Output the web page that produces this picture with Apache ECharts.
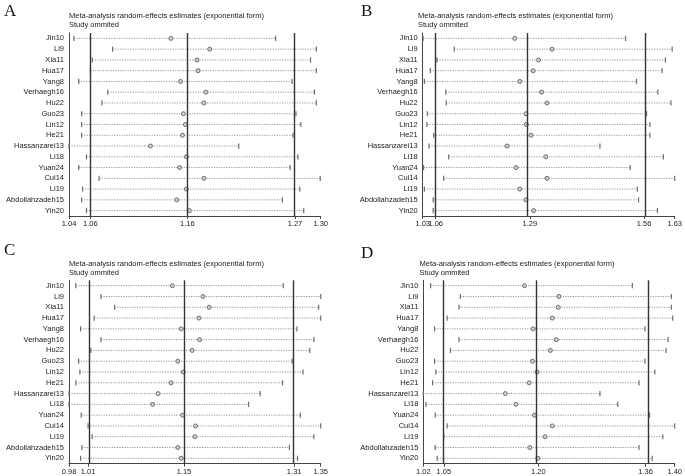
<!DOCTYPE html>
<html><head><meta charset="utf-8">
<script src="https://cdn.jsdelivr.net/npm/echarts@6/dist/echarts.min.js"></script>
<style>html,body{margin:0;padding:0;background:#fff}#c{width:685px;height:476px}</style>
</head><body><div id="c"></div>
<script>
const studies = ['Jin10','Li9','Xia11','Hua17','Yang8','Verhaegh16','Hu22','Guo23','Lin12','He21','Hassanzarei13','Li18','Yuan24','Cui14','Li19','Abdollahzadeh15','Yin20'];

const lowA = [1.043,1.083,1.062,1.060,1.048,1.078,1.072,1.051,1.051,1.051,1.038,1.056,1.048,1.069,1.052,1.051,1.056];
const estA = [1.143,1.183,1.170,1.171,1.153,1.179,1.177,1.156,1.158,1.155,1.122,1.159,1.152,1.177,1.159,1.149,1.162];
const upA  = [1.251,1.293,1.287,1.293,1.268,1.291,1.293,1.272,1.277,1.269,1.213,1.274,1.266,1.297,1.276,1.258,1.280];
const ticksA = [1.038,1.060,1.160,1.271,1.2975];
const labelsA = ['1.04','1.06','1.16','1.27','1.30'];

const lowB = [1.031,1.105,1.064,1.048,1.034,1.085,1.086,1.041,1.040,1.056,1.045,1.092,1.032,1.080,1.034,1.055,1.055];
const estB = [1.249,1.338,1.306,1.293,1.261,1.313,1.326,1.276,1.277,1.288,1.231,1.323,1.252,1.326,1.261,1.276,1.294];
const upB  = [1.513,1.624,1.608,1.600,1.539,1.590,1.621,1.563,1.571,1.571,1.452,1.603,1.524,1.630,1.541,1.544,1.589];
const ticksB = [1.03,1.061,1.285,1.557,1.63];
const labelsB = ['1.03','1.06','1.29','1.56','1.63'];

const lowC = [0.990,1.027,1.047,1.017,0.997,1.027,1.012,0.994,0.996,0.990,0.980,0.980,0.998,1.008,1.014,0.999,0.997];
const estC = [1.132,1.177,1.186,1.171,1.145,1.172,1.161,1.140,1.148,1.130,1.111,1.103,1.147,1.166,1.165,1.140,1.145];
const upC  = [1.295,1.350,1.347,1.350,1.315,1.340,1.334,1.308,1.324,1.294,1.261,1.244,1.320,1.350,1.340,1.304,1.316];
const ticksC = [0.98,1.008,1.149,1.311,1.35];
const labelsC = ['0.98','1.01','1.15','1.31','1.35'];

const lowD = [1.031,1.076,1.074,1.056,1.037,1.074,1.061,1.037,1.039,1.034,1.020,1.024,1.038,1.056,1.051,1.038,1.041];
const estD = [1.173,1.225,1.224,1.215,1.186,1.221,1.212,1.185,1.192,1.180,1.144,1.160,1.188,1.215,1.204,1.181,1.193];
const upD  = [1.336,1.395,1.395,1.397,1.355,1.390,1.387,1.355,1.370,1.346,1.287,1.314,1.362,1.400,1.382,1.346,1.366];
const ticksD = [1.02,1.051,1.194,1.356,1.40];
const labelsD = ['1.02','1.05','1.20','1.36','1.40'];

const panelLetters = ['A','B','C','D'];
const titleText = 'Meta-analysis random-effects estimates (exponential form)\nStudy ommited';

const panels = [
  {low: lowA, est: estA, up: upA, ticks: ticksA, labels: labelsA, grid: {left: 69, width: 251.7, top: 33, height: 183}, title: {left: 69, top: 11}, letter: {left: 4, top: 3}},
  {low: lowB, est: estB, up: upB, ticks: ticksB, labels: labelsB, grid: {left: 422.7, width: 252.3, top: 33, height: 183}, title: {left: 418, top: 11}, letter: {left: 361, top: 3}},
  {low: lowC, est: estC, up: upC, ticks: ticksC, labels: labelsC, grid: {left: 69, width: 251.7, top: 280.3, height: 183.4}, title: {left: 69, top: 259.5}, letter: {left: 4, top: 242}},
  {low: lowD, est: estD, up: upD, ticks: ticksD, labels: labelsD, grid: {left: 423.3, width: 251.7, top: 280.3, height: 183.4}, title: {left: 419.5, top: 259.5}, letter: {left: 361, top: 245}}
];

const FONT = '"Liberation Sans", Arial, sans-serif';
const txtColor = '#1a1a1a';

function renderRow(params, api) {
  const idx = api.value(0);
  const pL = api.coord([api.value(1), idx]);
  const pE = api.coord([api.value(2), idx]);
  const pH = api.coord([api.value(3), idx]);
  const y = pL[1];
  const capStyle = {stroke: '#6e6e6e', lineWidth: 1.2};
  return {
    type: 'group',
    children: [
      {type: 'line', shape: {x1: pL[0], y1: y, x2: pH[0], y2: y}, style: {stroke: '#8a8a8a', lineWidth: 0.9, lineDash: [1.2, 1.3]}},
      {type: 'line', shape: {x1: pL[0], y1: y - 2.6, x2: pL[0], y2: y + 2.6}, style: capStyle},
      {type: 'line', shape: {x1: pH[0], y1: y - 2.6, x2: pH[0], y2: y + 2.6}, style: capStyle},
      {type: 'circle', shape: {cx: pE[0], cy: y, r: 2}, style: {fill: '#d0d0d0', stroke: '#6e6e6e', lineWidth: 1}}
    ]
  };
}

function labelFormatter(ticks, labels) {
  return function (v) {
    let best = 0, bd = Infinity;
    ticks.forEach((t, i) => { const d = Math.abs(t - v); if (d < bd) { bd = d; best = i; } });
    return labels[best];
  };
}

const option = {
  animation: false,
  backgroundColor: '#fff',
  title: [], grid: [], xAxis: [], yAxis: [], series: []
};

panels.forEach((p, k) => {
  option.title.push({
    text: panelLetters[k], left: p.letter.left, top: p.letter.top, padding: 0,
    textStyle: {fontFamily: '"Liberation Serif", "Times New Roman", serif', fontSize: 17, fontWeight: 'normal', color: '#111'}
  });
  option.title.push({
    text: titleText, left: p.title.left, top: p.title.top, padding: 0,
    textStyle: {fontFamily: FONT, fontSize: 7.5, lineHeight: 9, fontWeight: 'normal', color: txtColor}
  });
  option.grid.push(Object.assign({containLabel: false}, p.grid));
  const ticks = p.ticks, labels = p.labels;
  const outerTicks = ticks.filter((t, i) => i !== 1);
  // main axis: line, all ticks, labels for all but the 2nd tick
  option.xAxis.push({
    type: 'value', gridIndex: k, position: 'bottom', min: ticks[0], max: ticks[ticks.length - 1],
    axisLine: {show: true, lineStyle: {color: '#444', width: 1}},
    axisTick: {show: true, customValues: ticks, length: 3, lineStyle: {color: '#444', width: 1}},
    axisLabel: {
      customValues: outerTicks, margin: 4, fontFamily: FONT, fontSize: 7.5, color: txtColor,
      showMinLabel: true, showMaxLabel: true, hideOverlap: false,
      formatter: labelFormatter(ticks, labels)
    },
    splitLine: {show: false}
  });
  // overlay axis carrying the 2nd tick label (may touch the min label, as in the reference)
  option.xAxis.push({
    type: 'value', gridIndex: k, position: 'bottom', min: ticks[0], max: ticks[ticks.length - 1],
    axisLine: {show: false}, axisTick: {show: false},
    axisLabel: {
      customValues: [ticks[1]], margin: 4, fontFamily: FONT, fontSize: 7.5, color: txtColor,
      showMinLabel: true, showMaxLabel: true, hideOverlap: false,
      formatter: labelFormatter(ticks, labels)
    },
    splitLine: {show: false}
  });
  option.yAxis.push({
    type: 'category', gridIndex: k, inverse: true, data: studies,
    axisLine: {show: true, lineStyle: {color: '#444', width: 1}},
    axisTick: {show: false},
    axisLabel: {margin: 5, fontFamily: FONT, fontSize: 7.5, color: txtColor, interval: 0},
    splitLine: {show: false}
  });
  option.series.push({
    type: 'custom', xAxisIndex: 2 * k, yAxisIndex: k,
    renderItem: renderRow,
    encode: {x: [1, 2, 3], y: 0},
    data: studies.map((s, i) => [i, p.low[i], p.est[i], p.up[i]]),
    markLine: {
      silent: true, symbol: 'none', label: {show: false},
      lineStyle: {color: '#333', width: 1.4, type: 'solid'},
      data: [{xAxis: ticks[1]}, {xAxis: ticks[2]}, {xAxis: ticks[3]}]
    },
    z: 3
  });
});

const chart = echarts.init(document.getElementById('c'), null, {renderer: 'canvas'});
chart.setOption(option);
</script>
</body></html>
